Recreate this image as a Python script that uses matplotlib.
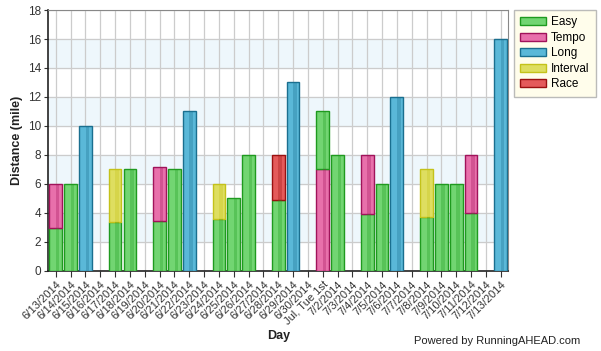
import matplotlib
matplotlib.use("Agg")
import matplotlib.pyplot as plt
from matplotlib.patches import Patch
import numpy as np

plt.rcParams["font.family"] = ["Liberation Sans", "DejaVu Sans"]

days = ["6/13/2014", "6/14/2014", "6/15/2014", "6/16/2014", "6/17/2014", "6/18/2014",
        "6/19/2014", "6/20/2014", "6/21/2014", "6/22/2014", "6/23/2014", "6/24/2014",
        "6/25/2014", "6/26/2014", "6/27/2014", "6/28/2014", "6/29/2014", "6/30/2014",
        "Jul, Tue 1st", "7/2/2014", "7/3/2014", "7/4/2014", "7/5/2014", "7/6/2014",
        "7/7/2014", "7/8/2014", "7/9/2014", "7/10/2014", "7/11/2014", "7/12/2014",
        "7/13/2014"]

easy     = [2.95, 6, 0, 0, 3.4, 7, 0, 3.45, 7, 0, 0, 3.6, 5, 8, 0, 4.9, 0, 0,
            4, 8, 0, 3.95, 6, 0, 0, 3.7, 6, 6, 4, 0, 0]
tempo    = [3.05, 0, 0, 0, 0, 0, 0, 3.7, 0, 0, 0, 0, 0, 0, 0, 0, 0, 0,
            7, 0, 0, 4.05, 0, 0, 0, 0, 0, 0, 4, 0, 0]
long_run = [0, 0, 10, 0, 0, 0, 0, 0, 0, 11, 0, 0, 0, 0, 0, 0, 13, 0,
            0, 0, 0, 0, 0, 12, 0, 0, 0, 0, 0, 0, 16]
interval = [0, 0, 0, 0, 3.6, 0, 0, 0, 0, 0, 0, 2.4, 0, 0, 0, 0, 0, 0,
            0, 0, 0, 0, 0, 0, 0, 3.3, 0, 0, 0, 0, 0]
race     = [0, 0, 0, 0, 0, 0, 0, 0, 0, 0, 0, 0, 0, 0, 0, 3.1, 0, 0,
            0, 0, 0, 0, 0, 0, 0, 0, 0, 0, 0, 0, 0]
# days where the tempo segment is stacked below the easy segment
tempo_below = ["Jul, Tue 1st"]

series = [
    ("Easy", easy, "#72d572", "#1f9a1f"),
    ("Tempo", tempo, "#e870ab", "#a0135a"),
    ("Long", long_run, "#5ab8d8", "#1a6f8f"),
    ("Interval", interval, "#dede60", "#c4c21a"),
    ("Race", race, "#e45a5a", "#9a1010"),
]

fig = plt.figure(figsize=(6.01, 3.51), dpi=100)
ax = fig.add_axes([0.0804, 0.228, 0.765, 0.7435])

x = np.arange(len(days))
width = 0.86

for i, d in enumerate(days):
    order = [1, 0, 2, 3, 4] if d in tempo_below else [0, 1, 2, 3, 4]
    b = 0.0
    for k in order:
        name, vals, fc, ec = series[k]
        v = vals[i]
        if v > 0:
            ax.bar(x[i], v, width=width, bottom=b, color=fc, edgecolor=ec,
                   linewidth=1.0, zorder=3)
            ax.bar(x[i] + 0.13, v, width=0.24, bottom=b, color=ec, alpha=0.3,
                   linewidth=0, zorder=4)
            b += v

for lo in [2, 6, 10, 14]:
    ax.axhspan(lo, lo + 2, color="#eef7fc", zorder=0)

ax.set_xlim(-0.5, len(days) - 0.5)
ax.set_ylim(0, 18)
ax.set_yticks(range(0, 19, 2))
ax.set_xticks(x)
ax.set_xticklabels(days, rotation=45, ha="right", rotation_mode="anchor", fontsize=8,
                   color="#333333")
ax.tick_params(axis="y", labelsize=8.5, length=3, color="#333333", labelcolor="#333333", pad=2)
ax.tick_params(axis="x", length=4, color="#333333", pad=2)
ax.grid(True, color="#cccccc", linewidth=0.9, zorder=1)
ax.set_axisbelow(True)
for s in ["top", "right"]:
    ax.spines[s].set_color("#888888")
for s in ["left", "bottom"]:
    ax.spines[s].set_color("#222222")
    ax.spines[s].set_linewidth(1.2)

ax.set_ylabel("Distance (mile)", fontsize=9, fontweight="bold", labelpad=4, color="#222222")
fig.text(0.463, 0.035, "Day", fontsize=9, fontweight="bold", ha="center", color="#222222")
fig.text(0.965, 0.02, "Powered by RunningAHEAD.com", fontsize=8, ha="right", color="#222222")

handles = [Patch(facecolor=fc, edgecolor=ec, label=name) for name, _, fc, ec in series]
leg = fig.legend(handles=handles, loc="upper left", bbox_to_anchor=(0.855, 0.972),
                 fontsize=8.5, frameon=True, fancybox=False, handlelength=2.2,
                 handleheight=0.7, labelspacing=0.3, borderpad=0.55, handletextpad=0.4,
                 borderaxespad=0)
leg.get_frame().set_facecolor("#fffde6")
leg.get_frame().set_edgecolor("#aaaaaa")

fig.savefig("out.png", dpi=100)
